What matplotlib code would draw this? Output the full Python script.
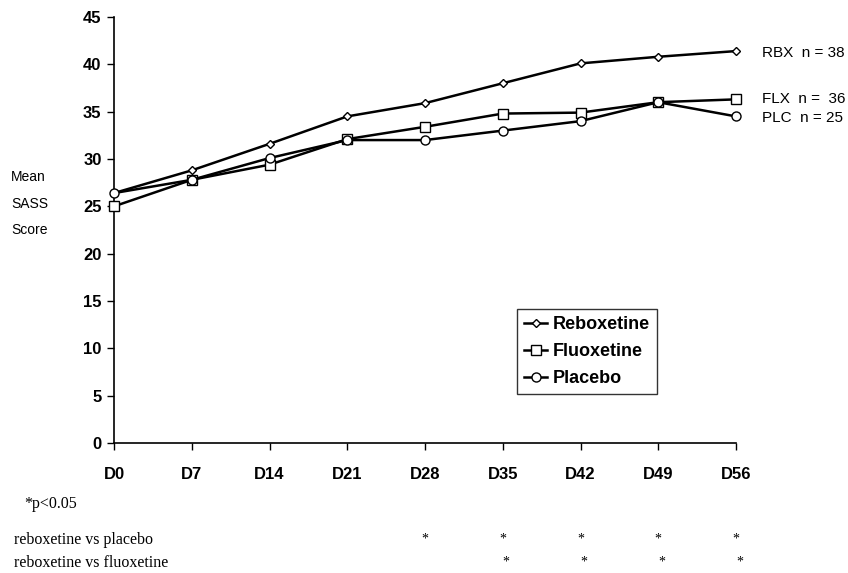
import matplotlib
matplotlib.use('agg')
import matplotlib.pyplot as plt

days = [0, 7, 14, 21, 28, 35, 42, 49, 56]
day_labels = ["D0", "D7", "D14", "D21", "D28", "D35", "D42", "D49", "D56"]
reboxetine = [26.4, 28.8, 31.6, 34.5, 35.9, 38.0, 40.1, 40.8, 41.4]
fluoxetine = [25.0, 27.8, 29.4, 32.1, 33.4, 34.8, 34.9, 36.0, 36.3]
placebo = [26.4, 27.8, 30.1, 32.0, 32.0, 33.0, 34.0, 36.0, 34.5]
n_labels = ["RBX  n = 38", "FLX  n =  36", "PLC  n = 25"]
n_label_y = [41.2, 36.3, 34.3]
sig_placebo = [28, 35, 42, 49, 56]
sig_fluoxetine = [35, 42, 49, 56]

sans = ['Liberation Sans', 'DejaVu Sans']
serif = ['Liberation Serif', 'DejaVu Serif']

W, H = 848, 573
fig = plt.figure(figsize=(W / 100, H / 100), dpi=100)
ax = fig.add_axes([114 / W, (H - 443) / H, (736 - 114) / W, (443 - 17) / H])

ax.plot(days, reboxetine, color='black', lw=1.8, marker='D', ms=4.5,
        mfc='white', mec='black', mew=1.0, label='Reboxetine', clip_on=False, zorder=3)
ax.plot(days, fluoxetine, color='black', lw=1.8, marker='s', ms=6.5,
        mfc='white', mec='black', mew=1.0, label='Fluoxetine', clip_on=False, zorder=3)
ax.plot(days, placebo, color='black', lw=1.8, marker='o', ms=6.5,
        mfc='white', mec='black', mew=1.0, label='Placebo', clip_on=False, zorder=4)

ax.set_xlim(0, 56)
ax.set_ylim(0, 45)
ax.set_xticks(days)
ax.set_xticklabels(day_labels, fontfamily=sans, fontweight='bold', fontsize=12)
ax.set_yticks(range(0, 46, 5))
ax.set_yticklabels([str(v) for v in range(0, 46, 5)], fontfamily=sans,
                   fontweight='bold', fontsize=12)
ax.tick_params(axis='x', direction='out', length=5, width=1, pad=12)
ax.tick_params(axis='y', direction='out', length=5, width=1, pad=4)
ax.spines['top'].set_visible(False)
ax.spines['right'].set_visible(False)
ax.spines['left'].set_linewidth(1.2)
ax.spines['bottom'].set_linewidth(1.2)

# n labels on the right
for lab, yv in zip(n_labels, n_label_y):
    ax.annotate(lab, xy=(56, yv), xytext=(26, 0), textcoords='offset pixels',
                ha='left', va='center', fontfamily=sans, fontsize=11,
                annotation_clip=False)

# y label, three lines
for i, word in enumerate(["Mean", "SASS", "Score"]):
    fig.text(11 / W, 1 - (177 + 26.5 * i) / H, word, ha='left', va='center',
             fontfamily=sans, fontsize=10)

leg = ax.legend(loc='upper left', bbox_to_anchor=((517 - 114) / (736 - 114), (443 - 309) / (443 - 17)),
                frameon=True, fancybox=False, edgecolor='black', handlelength=1.3,
                handletextpad=0.3, borderpad=0.38, labelspacing=0.57, borderaxespad=0,
                prop={'family': sans, 'weight': 'bold', 'size': 13})
leg.get_frame().set_linewidth(1.0)

# significance rows
fig.text(24 / W, 1 - 504 / H, "*p<0.05", ha='left', va='center',
         fontfamily=serif, fontsize=11.5)
fig.text(14 / W, 1 - 540 / H, "reboxetine vs placebo", ha='left', va='center',
         fontfamily=serif, fontsize=11.5)
fig.text(14 / W, 1 - 563 / H, "reboxetine vs fluoxetine", ha='left', va='center',
         fontfamily=serif, fontsize=11.5)
trans = ax.get_xaxis_transform()
for d in sig_placebo:
    ax.text(d, (443 - 539) / (443 - 17), "*", transform=trans, ha='center',
            va='center', fontfamily=serif, fontsize=10)
for d in sig_fluoxetine:
    ax.text(d + 0.3, (443 - 562) / (443 - 17), "*", transform=trans, ha='center',
            va='center', fontfamily=serif, fontsize=10)

fig.savefig("out.png", dpi=100)
